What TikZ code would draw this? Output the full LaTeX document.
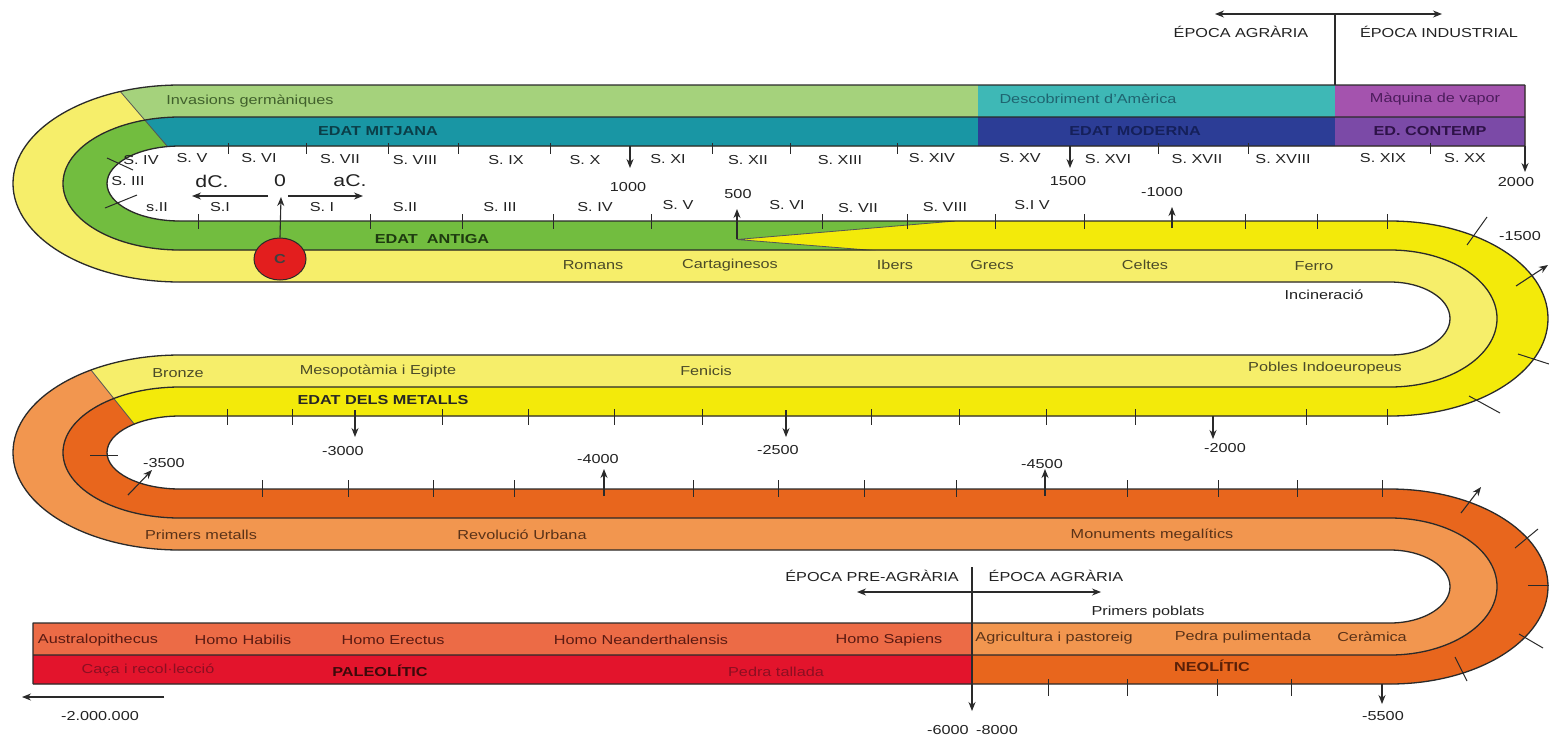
\documentclass[tikz,border=0pt]{standalone}
\usepackage{fontspec}
\setmainfont{Liberation Sans}[FakeStretch=1.25]
\usetikzlibrary{arrows.meta,shapes.geometric}
\definecolor{cLgreen}{HTML}{A5D27C}
\definecolor{cGreen}{HTML}{72BD3F}
\definecolor{cMitj}{HTML}{1996A4}
\definecolor{cDesc}{HTML}{3EB8B6}
\definecolor{cModer}{HTML}{2C3D96}
\definecolor{cMaq}{HTML}{A453AE}
\definecolor{cContemp}{HTML}{7B4AA7}
\definecolor{cLyel}{HTML}{F6EE6A}
\definecolor{cByel}{HTML}{F3EA0A}
\definecolor{cLor}{HTML}{F2964F}
\definecolor{cDor}{HTML}{E8661D}
\definecolor{cSalmon}{HTML}{EC6B46}
\definecolor{cRed}{HTML}{E3142C}
\definecolor{cCirc}{HTML}{E31E1E}
\definecolor{cLine}{HTML}{2A2A2A}
\definecolor{tLab}{HTML}{222222}
\definecolor{tInv}{HTML}{40602C}
\definecolor{tMitj}{HTML}{0B3E48}
\definecolor{tDesc}{HTML}{1F6470}
\definecolor{tModer}{HTML}{15205A}
\definecolor{tMaq}{HTML}{4C1C5C}
\definecolor{tCont}{HTML}{2E1248}
\definecolor{tGreen}{HTML}{1E3A10}
\definecolor{tYel}{HTML}{4A4A28}
\definecolor{tOr}{HTML}{5A3218}
\definecolor{tSal}{HTML}{5A1A12}
\definecolor{tRedDim}{HTML}{8C0F22}
\definecolor{tPal}{HTML}{3C0A0A}
\definecolor{tNeo}{HTML}{5A2008}
\begin{document}
\begin{tikzpicture}[x=1pt,y=1pt,yscale=-1,
  lab/.style={inner sep=0pt, font=\fontsize{13}{15}\selectfont, text=tLab},
  blab/.style={inner sep=0pt, font=\fontsize{13}{15}\selectfont\bfseries},
  bigl/.style={inner sep=0pt, font=\fontsize{17}{19}\selectfont, text=tLab},
  bandline/.style={line width=1.3pt, draw=cLine, line join=round},
  tk/.style={line width=1pt, draw=cLine},
  sepline/.style={line width=0.8pt, draw=cLine!80},
  arr/.style={line width=1.1pt, draw=cLine, -{Stealth[length=9pt,width=7pt]}},
  darr/.style={line width=1.1pt, draw=cLine, {Stealth[length=9pt,width=7pt]}-{Stealth[length=9pt,width=7pt]}},
]
\useasboundingbox (0,0) rectangle (1549,740);
\fill[white] (0,0) rectangle (1549,740);

% ---------- stripe S1 ----------
\begin{scope}
\clip (1525,85) -- (180,85) arc[start angle=270,end angle=90,x radius=167,y radius=98.5]
 -- (1390,282) arc[start angle=-90,end angle=90,x radius=60,y radius=36.5]
 -- (180,355) arc[start angle=270,end angle=90,x radius=167,y radius=97.5]
 -- (1390,550) arc[start angle=-90,end angle=90,x radius=60,y radius=36.5]
 -- (33,623) -- (33,655) -- (1390,655) arc[start angle=90,end angle=-90,x radius=107,y radius=68.5]
 -- (180,518) arc[start angle=90,end angle=270,x radius=117,y radius=65.5]
 -- (1390,387) arc[start angle=90,end angle=-90,x radius=107,y radius=68.5]
 -- (180,250) arc[start angle=90,end angle=270,x radius=117,y radius=66.5]
 -- (1525,117) -- cycle;
\fill[cLor] (0,0) rectangle (1549,740);
\fill[cLyel] (0,0) -- (1549,0) -- (1549,440) -- (147,440) -- (67,340) -- (0,340) -- cycle;
\fill[cLgreen] (93.3,60) -- (978,60) -- (978,160) -- (179,160) -- cycle;
\fill[cDesc] (978,60) rectangle (1335,160);
\fill[cMaq] (1335,60) rectangle (1549,160);
\fill[cSalmon] (0,600) rectangle (972,700);
\draw[sepline] (93.3,60) -- (179,160);
\draw[sepline] (67,340) -- (147,440);
\end{scope}

% ---------- stripe S2 ----------
\begin{scope}
\clip (1525,117) -- (180,117) arc[start angle=270,end angle=90,x radius=117,y radius=66.5]
 -- (1390,250) arc[start angle=-90,end angle=90,x radius=107,y radius=68.5]
 -- (180,387) arc[start angle=270,end angle=90,x radius=117,y radius=65.5]
 -- (1390,518) arc[start angle=-90,end angle=90,x radius=107,y radius=68.5]
 -- (33,655) -- (33,684) -- (1390,684) arc[start angle=90,end angle=-90,x radius=158,y radius=97.5]
 -- (180,489) arc[start angle=90,end angle=270,x radius=73,y radius=36.5]
 -- (1390,416) arc[start angle=90,end angle=-90,x radius=158,y radius=97.5]
 -- (180,221) arc[start angle=90,end angle=270,x radius=73,y radius=37.5]
 -- (1525,146) -- cycle;
\fill[cDor] (0,0) rectangle (1549,740);
\fill[cByel] (0,0) -- (1549,0) -- (1549,440) -- (147,440) -- (67,340) -- (0,340) -- cycle;
\fill[cGreen] (0,60) -- (93.3,60) -- (179,160) -- (955,160) -- (955,221) -- (737,239.5) -- (880,251) -- (880,270) -- (0,270) -- cycle;
\fill[cMitj] (93.3,60) -- (978,60) -- (978,160) -- (179,160) -- cycle;
\fill[cModer] (978,60) rectangle (1335,160);
\fill[cContemp] (1335,60) rectangle (1549,160);
\fill[cRed] (0,640) rectangle (972,700);
\draw[sepline] (93.3,60) -- (179,160);
\draw[sepline] (67,340) -- (147,440);
\draw[sepline] (955,221) -- (737,239.5) -- (880,251);
\end{scope}

% ---------- outlines ----------
\draw[bandline] (1525,85) -- (180,85) arc[start angle=270,end angle=90,x radius=167,y radius=98.5]
 -- (1390,282) arc[start angle=-90,end angle=90,x radius=60,y radius=36.5]
 -- (180,355) arc[start angle=270,end angle=90,x radius=167,y radius=97.5]
 -- (1390,550) arc[start angle=-90,end angle=90,x radius=60,y radius=36.5]
 -- (33,623) -- (33,684);
\draw[bandline] (1525,117) -- (180,117) arc[start angle=270,end angle=90,x radius=117,y radius=66.5]
 -- (1390,250) arc[start angle=-90,end angle=90,x radius=107,y radius=68.5]
 -- (180,387) arc[start angle=270,end angle=90,x radius=117,y radius=65.5]
 -- (1390,518) arc[start angle=-90,end angle=90,x radius=107,y radius=68.5]
 -- (33,655);
\draw[bandline] (1525,85) -- (1525,146) -- (180,146) arc[start angle=270,end angle=90,x radius=73,y radius=37.5]
 -- (1390,221) arc[start angle=-90,end angle=90,x radius=158,y radius=97.5]
 -- (180,416) arc[start angle=270,end angle=90,x radius=73,y radius=36.5]
 -- (1390,489) arc[start angle=-90,end angle=90,x radius=158,y radius=97.5]
 -- (33,684);

% ---------- ticks ----------
\foreach \x in {228,306,388,458,550,712,790,897,1158,1248,1430} \draw[tk] (\x,143) -- (\x,154);
\foreach \x in {198,370,462,553,651,822,907,995,1084,1245,1317,1387} \draw[tk] (\x,214) -- (\x,229);
\foreach \x in {227,292,442,528,614,702,871,959,1046,1135,1306,1387} \draw[tk] (\x,409) -- (\x,425);
\foreach \x in {262,348,433,514,693,778,864,956,1127,1218,1297,1382} \draw[tk] (\x,480) -- (\x,497);
\foreach \x in {1048,1127,1217,1291} \draw[tk] (\x,679) -- (\x,696);
\draw[tk] (107,158) -- (133,170);
\draw[tk] (105,208) -- (137,195);
\draw[tk] (1487,217) -- (1467,245);
\draw[tk] (1518,354) -- (1549,364);
\draw[tk] (1469,396) -- (1500,413);
\draw[tk] (90,455) -- (118,455);
\draw[tk] (1515,548) -- (1538,529);
\draw[tk] (1528,585) -- (1549,585);
\draw[tk] (1519,634) -- (1543,648);
\draw[tk] (1455,657) -- (1467,681);

% ---------- arrows ----------
\coordinate (a1000s) at (630,146); \coordinate (a1000e) at (630,168);
\coordinate (a1500s) at (1070,146); \coordinate (a1500e) at (1070,168);
\coordinate (a2000s) at (1525,146); \coordinate (a2000e) at (1525,172);
\coordinate (a500s) at (737,239); \coordinate (a500e) at (737,209);
\coordinate (am1000s) at (1172,228); \coordinate (am1000e) at (1172,207);
\coordinate (am1500s) at (1516,286); \coordinate (am1500e) at (1548,265);
\coordinate (am3000s) at (355,410); \coordinate (am3000e) at (355,437);
\coordinate (am2500s) at (786,410); \coordinate (am2500e) at (786,437);
\coordinate (am2000s) at (1213,416); \coordinate (am2000e) at (1213,439);
\coordinate (am3500s) at (128,495); \coordinate (am3500e) at (152,470);
\coordinate (am4000s) at (604,496); \coordinate (am4000e) at (604,469);
\coordinate (am4500s) at (1045,496); \coordinate (am4500e) at (1045,469);
\coordinate (ar2s) at (1461,513); \coordinate (ar2e) at (1481,487);
\coordinate (am5500s) at (1382,684); \coordinate (am5500e) at (1382,704);
\foreach \n in {a1000,a1500,a2000,a500,am1000,am1500,am3000,am2500,am2000,am3500,am4000,am4500,ar2,am5500}
  \draw[arr] (\n s) -- (\n e);

\coordinate (dcA) at (268,196); \coordinate (dcB) at (192,196);
\coordinate (acA) at (288,196); \coordinate (acB) at (363,196);
\draw[arr] (dcA) -- (dcB);
\draw[arr] (acA) -- (acB);

\coordinate (epL) at (1215,14); \coordinate (epR) at (1442,14);
\coordinate (epT) at (1335,14); \coordinate (epB) at (1335,85);
\draw[darr] (epL) -- (epR);
\draw[line width=1.1pt, draw=cLine] (epT) -- (epB);

\coordinate (bpL) at (857,592); \coordinate (bpR) at (1101,592);
\coordinate (bpT) at (972,567); \coordinate (bpB) at (972,711);
\draw[darr] (bpL) -- (bpR);
\draw[arr] (bpT) -- (bpB);

\coordinate (mmA) at (164,697); \coordinate (mmB) at (22,697);
\draw[arr] (mmA) -- (mmB);

% ---------- red circle ----------
\node[ellipse, draw=cLine, line width=1pt, fill=cCirc, minimum width=52pt, minimum height=42pt, inner sep=0pt,
  font=\fontsize{13}{15}\selectfont\bfseries, text=black!75] (circC) at (280,259) {C};
\coordinate (zeroTip) at (281,197);
\draw[arr] (circC.north) -- (zeroTip);

% ---------- labels top ----------
\node[lab] (epAgr) at (1241,32) {ÉPOCA AGRÀRIA};
\node[lab] (epInd) at (1439,32) {ÉPOCA INDUSTRIAL};
\node[lab, text=tInv] (invas) at (250,101) {Invasions germàniques};
\node[blab, text=tMitj] (mitj) at (378,131) {EDAT MITJANA};
\node[lab, text=tDesc] (descA) at (1088,99) {Descobriment d'Amèrica};
\node[blab, text=tModer] (moder) at (1135,131) {EDAT MODERNA};
\node[lab, text=tMaq] (maq) at (1435,99) {Màquina de vapor};
\node[blab, text=tCont] (contemp) at (1430,131) {ED. CONTEMP};

\node[lab] (c4) at (141,160) {S. IV};
\node[lab] (c5) at (192,158) {S. V};
\node[lab] (c6) at (259,158) {S. VI};
\node[lab] (c7) at (340,159) {S. VII};
\node[lab] (c8) at (415,160) {S. VIII};
\node[lab] (c9) at (506,160) {S. IX};
\node[lab] (c10) at (585,160) {S. X};
\node[lab] (c11) at (668,159) {S. XI};
\node[lab] (c12) at (748,160) {S. XII};
\node[lab] (c13) at (840,160) {S. XIII};
\node[lab] (c14) at (932,158) {S. XIV};
\node[lab] (c15) at (1020,158) {S. XV};
\node[lab] (c16) at (1108,159) {S. XVI};
\node[lab] (c17) at (1197,159) {S. XVII};
\node[lab] (c18) at (1283,159) {S. XVIII};
\node[lab] (c19) at (1383,158) {S. XIX};
\node[lab] (c20) at (1465,158) {S. XX};

\node[lab] (c3) at (128,181) {S. III};
\node[lab] (c2) at (157,207) {s.II};
\node[bigl] (dC) at (212,181) {dC.};
\node[bigl] (zero) at (280,181) {0};
\node[bigl] (aC) at (350,181) {aC.};
\node[lab] (b1) at (220,207) {S.I};
\node[lab] (b1b) at (322,207) {S. I};
\node[lab] (b2) at (405,207) {S.II};
\node[lab] (b3) at (500,207) {S. III};
\node[lab] (b4) at (595,207) {S. IV};
\node[lab] (b5) at (678,205) {S. V};
\node[lab] (b6) at (787,205) {S. VI};
\node[lab] (b7) at (858,208) {S. VII};
\node[lab] (b8) at (945,207) {S. VIII};
\node[lab] (b9) at (1032,205) {S.I V};

\node[lab] (n1000) at (628,187) {1000};
\node[lab] (n500) at (738,194) {500};
\node[lab] (n1500) at (1068,181) {1500};
\node[lab] (nm1000) at (1162,192) {-1000};
\node[lab] (n2000) at (1516,182) {2000};
\node[lab] (nm1500) at (1520,236) {-1500};

% ---------- row 2 ----------
\node[blab, text=tGreen] (antiga) at (432,239) {EDAT\ \ ANTIGA};
\node[lab, text=tYel] (romans) at (593,265) {Romans};
\node[lab, text=tYel] (cartag) at (730,265) {Cartaginesos};
\node[lab, text=tYel] (ibers) at (895,265) {Ibers};
\node[lab, text=tYel] (grecs) at (992,265) {Grecs};
\node[lab, text=tYel] (celtes) at (1145,265) {Celtes};
\node[lab, text=tYel] (ferro) at (1314,266) {Ferro};
\node[lab] (incin) at (1324,295) {Incineració};

% ---------- row 3 ----------
\node[lab, text=tYel] (bronze) at (178,373) {Bronze};
\node[lab, text=tYel] (meso) at (378,371) {Mesopotàmia i Egipte};
\node[lab, text=tYel] (fenicis) at (706,371) {Fenicis};
\node[lab, text=tYel] (pobles) at (1325,368) {Pobles Indoeuropeus};
\node[blab, text=black!85] (metalls) at (383,400) {EDAT DELS METALLS};

\node[lab] (nm3500) at (164,463) {-3500};
\node[lab] (nm3000) at (343,451) {-3000};
\node[lab] (nm2500) at (778,450) {-2500};
\node[lab] (nm2000) at (1225,448) {-2000};
\node[lab] (nm4000) at (598,459) {-4000};
\node[lab] (nm4500) at (1042,464) {-4500};

% ---------- row 4 ----------
\node[lab, text=tOr] (primMet) at (201,535) {Primers metalls};
\node[lab, text=tOr] (revUrb) at (522,535) {Revolució Urbana};
\node[lab, text=tOr] (monum) at (1152,535) {Monuments megalítics};

% ---------- bottom ----------
\node[lab] (epPre) at (872,576) {ÉPOCA PRE-AGRÀRIA};
\node[lab] (epAgr2) at (1056,576) {ÉPOCA AGRÀRIA};
\node[lab] (primPob) at (1148,612) {Primers poblats};

\node[lab, text=tSal] (austr) at (98,640) {Australopithecus};
\node[lab, text=tSal] (habil) at (243,640) {Homo Habilis};
\node[lab, text=tSal] (erect) at (393,640) {Homo Erectus};
\node[lab, text=tSal] (neand) at (641,640) {Homo Neanderthalensis};
\node[lab, text=tSal] (sapi) at (889,640) {Homo Sapiens};
\node[lab, text=tOr] (agric) at (1054,638) {Agricultura i pastoreig};
\node[lab, text=tOr] (pedrap) at (1243,637) {Pedra pulimentada};
\node[lab, text=tOr] (ceram) at (1372,637) {Ceràmica};

\node[lab, text=tRedDim] (caca) at (148,670) {Caça i recol·lecció};
\node[blab, text=tPal] (paleo) at (380,671) {PALEOLÍTIC};
\node[lab, text=tRedDim] (pedrat) at (776,672) {Pedra tallada};
\node[blab, text=tNeo] (neol) at (1212,666) {NEOLÍTIC};

\node[lab] (nm6000) at (948,730) {-6000};
\node[lab] (nm8000) at (997,730) {-8000};
\node[lab] (nm5500) at (1383,716) {-5500};
\node[lab] (nm2m) at (100,716) {-2.000.000};
\end{tikzpicture}
\end{document}
